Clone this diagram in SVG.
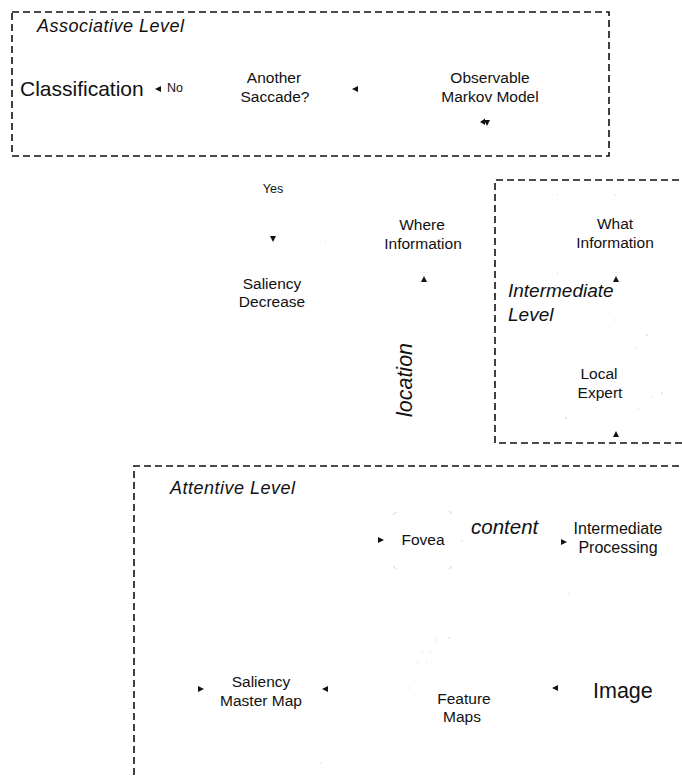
<svg xmlns="http://www.w3.org/2000/svg" width="682" height="777" viewBox="0 0 682 777">
<style>
.box{fill:none;stroke:#111;stroke-width:1.6;stroke-dasharray:7,4}
.t{font-family:"Liberation Sans",Arial,sans-serif;font-size:15.5px;fill:#111;text-anchor:middle}
.s{font-size:12.5px}
.big{font-family:"Liberation Sans",Arial,sans-serif;font-size:21px;fill:#111}
.lvl{font-family:"Liberation Sans",Arial,sans-serif;font-style:italic;font-size:18px;letter-spacing:0.5px;fill:#111}
.lab{font-family:"Liberation Sans",Arial,sans-serif;font-style:italic;font-size:19px;fill:#111}
.ah{fill:#111}
.faint{stroke:#c4c4c4;stroke-width:0.8;fill:none}
</style>
<rect width="682" height="777" fill="#fff"/>
<g id="associative-level">
<rect class="box" x="12" y="12" width="597" height="144"/>
<text class="lvl" x="37" y="32">Associative Level</text>
</g>
<g id="intermediate-level">
<path class="box" d="M690,180 H495 V443 H690"/>
<text class="lab" x="508" y="297">Intermediate</text>
<text class="lab" x="508" y="321">Level</text>
</g>
<g id="attentive-level">
<path class="box" d="M690,466 H134 V777"/>
<text class="lvl" x="170" y="494">Attentive Level</text>
</g>
<g id="classification"><text class="big" x="20" y="96">Classification</text></g>
<g id="another-saccade"><text class="t" x="274" y="83">Another</text><text class="t" x="275" y="102">Saccade?</text></g>
<g id="markov-model"><text class="t" x="490" y="83">Observable</text><text class="t" x="490" y="102">Markov Model</text></g>
<g id="saliency-decrease"><text class="t" x="272" y="289">Saliency</text><text class="t" x="272" y="307">Decrease</text></g>
<g id="where-information"><text class="t" x="422" y="230">Where</text><text class="t" x="423" y="249">Information</text></g>
<g id="what-information"><text class="t" x="615" y="229">What</text><text class="t" x="615" y="248">Information</text></g>
<g id="local-expert"><text class="t" x="599" y="379">Local</text><text class="t" x="600" y="398">Expert</text>
<path class="faint" d="M646,334 l2,2 M661,394 l2,-2 M565,417 l2,2 M557,195 h1 M615,195 h1 M557,273 h1 M615,320 h1 M635,348 h1 M652,397 h1 M638,409 h1"/></g>
<g id="fovea"><text class="t" x="423" y="545">Fovea</text>
<path class="faint" d="M393,515 l3,-3 M449,511 l3,3 M393,566 l3,3 M449,569 l3,-3 M461,541 h1.5"/></g>
<g id="intermediate-processing"><text class="t" x="618" y="534" style="font-size:16px">Intermediate</text><text class="t" x="618" y="553" style="font-size:16px">Processing</text></g>
<g id="saliency-master-map"><text class="t" x="261" y="687">Saliency</text><text class="t" x="261" y="706">Master Map</text></g>
<g id="feature-maps"><text class="t" x="464" y="704">Feature</text><text class="t" x="462" y="722">Maps</text>
<path class="faint" d="M436,640 h1.5 M448,638 h1.5 M422,652 h1 M430,652 h1 M417,662 h1 M426,662 h1 M408,688 h1 M568,594 h1 M320,763 h1 M325,242 h1"/></g>
<g id="image"><text class="big" x="593" y="698" style="font-size:21.5px">Image</text></g>
<g id="connectors">
<text class="t s" x="175" y="92">No</text>
<text class="t s" x="273" y="193">Yes</text>
<text class="lab" transform="translate(412,380) rotate(-90)" text-anchor="middle" style="font-size:21.5px">location</text>
<text class="lab" x="471" y="534" style="font-size:20.5px">content</text>
<polygon class="ah" points="155,89 161,86 161,92"/>
<polygon class="ah" points="352,89 358,86 358,92"/>
<polygon class="ah" points="480,122 485,118.5 485,125"/>
<polygon class="ah" points="487,126 484,120 490,120"/>
<polygon class="ah" points="273,242 270,236 276,236"/>
<polygon class="ah" points="424,276 421,282 427,282"/>
<polygon class="ah" points="616,276 613,282 619,282"/>
<polygon class="ah" points="616,431 613,437 619,437"/>
<polygon class="ah" points="384,540 378,537 378,543"/>
<polygon class="ah" points="567,542 561,539 561,545"/>
<polygon class="ah" points="204,689 198,686 198,692"/>
<polygon class="ah" points="322,689 328,686 328,692"/>
<polygon class="ah" points="552,688 558,685 558,691"/>
</g>
</svg>
